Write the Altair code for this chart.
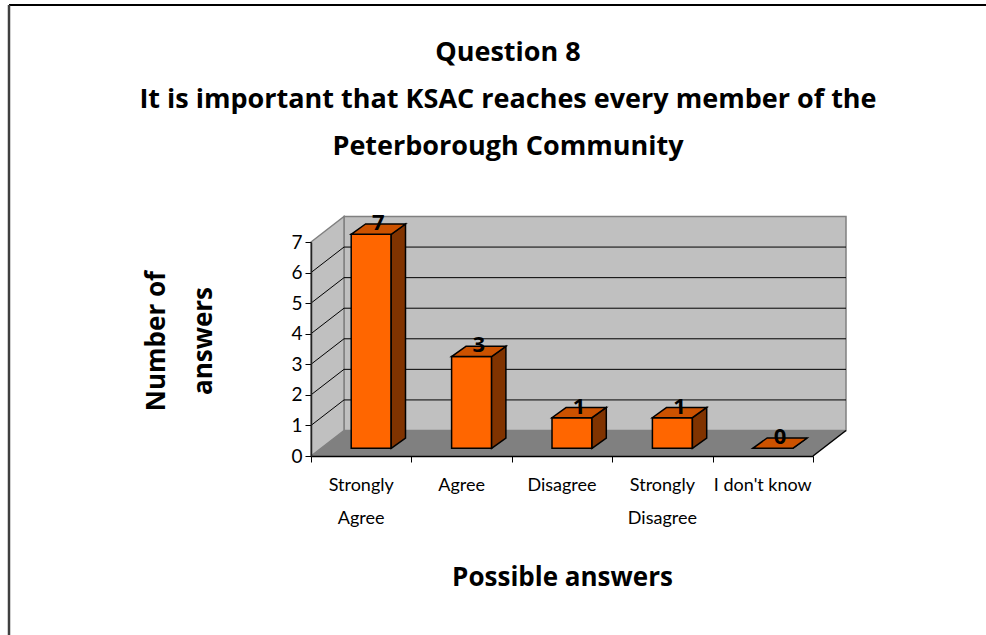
import altair as alt
import pandas as pd

# ---------------- data ----------------
CATEGORIES = ["Strongly Agree", "Agree", "Disagree", "Strongly Disagree", "I don't know"]
AXIS_LABELS = ["Strongly\nAgree", "Agree", "Disagree", "Strongly\nDisagree", "I don't know"]
VALUES = [7, 3, 1, 1, 0]
Y_TICKS = [0, 1, 2, 3, 4, 5, 6, 7]
TITLE_LINES = ["Question 8", "It is important that KSAC reaches every member of the", "Peterborough Community"]
Y_TITLE = ["Number of", "answers"]
X_TITLE = "Possible answers"

# ---------------- layout (pixels) ----------------
W, H = 502, 214
PAD = {"left": 311, "top": 242, "right": 173, "bottom": 179}
NCAT = len(CATEGORIES)
YMAX = max(Y_TICKS)
ux = W / NCAT
uy = H / YMAX

DX, DY = 33 / ux, 25.5 / uy      # wall depth
FX, FY = 10 / ux, 7.7 / uy       # bar front offset
BX, BY = 14.3 / ux, 10.3 / uy    # bar depth
BW = 40 / ux                      # bar width

FONT = "Lato"
BFONT = "Open Sans"
xs = alt.Scale(domain=[0, NCAT], nice=False, zero=False)
ys = alt.Scale(domain=[0, YMAX], nice=False, zero=False)

# ---------------- derived tables ----------------
front, side, top, lab = [], [], [], []
for i, (cat, v) in enumerate(zip(CATEGORIES, VALUES)):
    c = i + 0.5 + FX
    l, r = c - BW / 2, c + BW / 2
    front.append({"cat": cat, "x": l, "x2": r, "y": FY, "y2": FY + v})
    side.append({"cat": cat, "x": r, "y": FY, "y2": FY + v})
    side.append({"cat": cat, "x": r + BX, "y": FY + BY, "y2": FY + BY + v})
    top.append({"cat": cat, "y": FY + v, "x": l, "x2": r})
    top.append({"cat": cat, "y": FY + v + BY, "x": l + BX, "x2": r + BX})
    lab.append({"cat": cat, "x": c + BX / 2, "y": FY + v + BY / 2, "v": v})

front_df, side_df, top_df, lab_df = map(pd.DataFrame, (front, side, top, lab))

cat_df = pd.DataFrame({"cat": CATEGORIES, "label": AXIS_LABELS,
                       "x": [i + 0.5 for i in range(NCAT)]})

back_df = pd.DataFrame([{"x": DX, "x2": NCAT + DX, "y": DY, "y2": YMAX + DY}])
lwall_df = pd.DataFrame([{"x": 0, "y": 0, "y2": YMAX}, {"x": DX, "y": DY, "y2": YMAX + DY}])
floor_df = pd.DataFrame([{"y": 0, "x": 0, "x2": NCAT}, {"y": DY, "x": DX, "x2": NCAT + DX}])
grid_df = pd.DataFrame([{"x": DX, "x2": NCAT + DX, "y": t + DY, "y2": t + DY} for t in Y_TICKS[1:-1]])
diag_df = pd.DataFrame([{"x": 0, "x2": DX, "y": t, "y2": t + DY} for t in Y_TICKS[1:-1]])
redge_df = pd.DataFrame([{"x": NCAT, "x2": NCAT + DX, "y": 0, "y2": DY}])
one = pd.DataFrame([{"k": 1}])

# ---------------- axes ----------------
yaxis = alt.Axis(values=Y_TICKS, format="d", grid=False, domainColor="#222222", domainWidth=1.5,
                 tickColor="#000000", tickSize=6, labelFontSize=19, labelPadding=3,
                 labelColor="#000000", labelFont=FONT, zindex=1,
                 title=Y_TITLE, titleFont=BFONT, titleFontSize=26, titleFontWeight="bold",
                 titleLineHeight=47, titleAngle=270, titleX=-147, titleY=98.5,
                 titleAlign="center", titleBaseline="alphabetic", titleColor="#000000")
xaxis = alt.Axis(values=list(range(NCAT + 1)), labels=False, grid=False, domainColor="#000000",
                 domainWidth=1.5, tickColor="#000000", tickSize=6, zindex=1,
                 title=X_TITLE, titleFont=BFONT, titleFontSize=26, titleFontWeight="bold",
                 titleX=W / 2, titleY=129, titleAlign="center", titleBaseline="alphabetic",
                 titleColor="#000000")


def X(f="x:Q", **kw):
    return alt.X(f, scale=xs, axis=xaxis, **kw)


def Y(f="y:Q", **kw):
    return alt.Y(f, scale=ys, axis=yaxis, **kw)


# ---------------- layers ----------------
back = alt.Chart(back_df).mark_rect(fill="#C0C0C0", stroke="#808080", strokeWidth=1.5).encode(
    x=X(), x2="x2:Q", y=Y(), y2="y2:Q")

lwall = alt.Chart(lwall_df).mark_area(fill="#C0C0C0", stroke="#808080", strokeWidth=1.5,
                                      orient="vertical").encode(
    x=X(), y=Y(stack=None), y2="y2:Q")

floor = alt.Chart(floor_df).mark_area(fill="#808080", orient="horizontal").encode(
    y=Y(), x=X(stack=None), x2="x2:Q")

grid = alt.Chart(grid_df).mark_rule(color="#000000", strokeWidth=1).encode(
    x=X(), x2="x2:Q", y=Y(), y2="y2:Q")

diag = alt.Chart(diag_df).mark_rule(color="#000000", strokeWidth=1).encode(
    x=X(), x2="x2:Q", y=Y(), y2="y2:Q")

redge = alt.Chart(redge_df).mark_rule(color="#000000", strokeWidth=1.5).encode(
    x=X(), x2="x2:Q", y=Y(), y2="y2:Q")

bar_front = alt.Chart(front_df).mark_rect(fill="#FF6600", stroke="#000000", strokeWidth=1.5).encode(
    x=X(), x2="x2:Q", y=Y(), y2="y2:Q")

bar_side = alt.Chart(side_df).mark_area(fill="#803300", stroke="#000000", strokeWidth=1.5,
                                        orient="vertical").encode(
    x=X(), y=Y(stack=None), y2="y2:Q", detail="cat:N")

bar_top = alt.Chart(top_df).mark_area(fill="#CC5200", stroke="#000000", strokeWidth=1.5,
                                      orient="horizontal").encode(
    y=Y(), x=X(stack=None), x2="x2:Q", detail="cat:N")

bar_lab = alt.Chart(lab_df).mark_text(font=BFONT, fontSize=22, fontWeight="bold", color="#000000",
                                      baseline="alphabetic", align="center", dy=1).encode(
    x=X(), y=Y(), text="v:Q")

cat_lab = alt.Chart(cat_df).mark_text(font=FONT, fontSize=18, color="#000000", lineBreak="\n",
                                      lineHeight=33, baseline="alphabetic", align="center").encode(
    x=X(), y=alt.value(H + 35), text="label:N")

title = alt.Chart(pd.DataFrame([{"t": "\n".join(TITLE_LINES)}])).mark_text(
    font=BFONT, fontSize=27, fontWeight="bold", color="#000000", lineBreak="\n", lineHeight=47,
    baseline="alphabetic", align="center").encode(
    x=alt.value(508 - PAD["left"]), y=alt.value(61 - PAD["top"]), text="t:N")

frame_top = alt.Chart(one).mark_rule(color="#000000", strokeWidth=2).encode(
    x=alt.value(9 - PAD["left"]), x2=alt.value(986 - PAD["left"]), y=alt.value(5 - PAD["top"]))
frame_left = alt.Chart(one).mark_rule(color="#404040", strokeWidth=2.5).encode(
    x=alt.value(9 - PAD["left"]), y=alt.value(5 - PAD["top"]), y2=alt.value(635 - PAD["top"]))

chart = alt.layer(
    back, lwall, floor, grid, diag, redge,
    bar_front, bar_side, bar_top, bar_lab, cat_lab, title, frame_top, frame_left
).properties(
    width=W, height=H,
    autosize=alt.AutoSizeParams(type="none"),
    padding=PAD,
    background="#FFFFFF",
).configure_view(stroke=None).configure(font=FONT)

chart.save("out.html", embed_options={"renderer": "svg", "actions": False})
